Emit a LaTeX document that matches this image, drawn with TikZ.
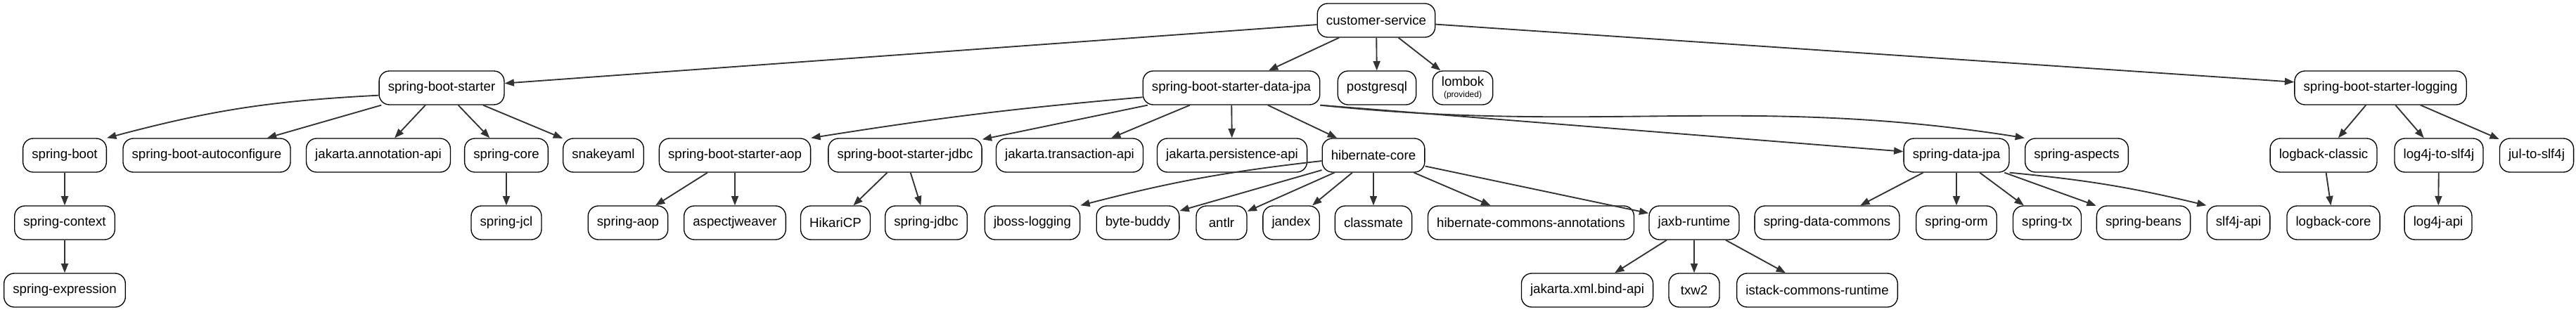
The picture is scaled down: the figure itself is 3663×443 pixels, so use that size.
\documentclass[tikz,border=0pt]{standalone}
\usepackage{fontspec}
\setmainfont{Liberation Sans}
\usetikzlibrary{arrows.meta}

\tikzset{
  artifact/.style={draw, line width=1pt, rounded corners=11pt, minimum width=54pt,
    minimum height=36pt, inner xsep=9.5pt, font=\fontsize{14}{16}\selectfont},
  dependson/.style={-{Triangle[length=10pt,width=7.5pt]}, line width=1.4pt, draw=black!80},
}

\begin{document}
\begin{tikzpicture}[x=0.75pt, y=0.75pt]
    \useasboundingbox (0,0) rectangle (3663,-443);

    % Root project
    \node[artifact] (cs) at (1957,-29) {customer-service};

    % Direct dependencies
    \node[artifact] (sbs) at (628,-125) {spring-boot-starter};
    \node[artifact] (sbsdj) at (1751,-125) {spring-boot-starter-data-jpa};
    \node[artifact] (pg) at (1958,-125) {postgresql};
    \node[artifact, align=center] (lom) at (2080,-125) {lombok\\[-4pt]{\fontsize{9}{10}\selectfont (provided)}};
    \node[artifact] (sbsl) at (3385,-125) {spring-boot-starter-logging};

    % Second level
    \node[artifact] (sb) at (92,-221) {spring-boot};
    \node[artifact] (sbac) at (294,-221) {spring-boot-autoconfigure};
    \node[artifact] (jaa) at (538,-221) {jakarta.annotation-api};
    \node[artifact] (score) at (720,-221) {spring-core};
    \node[artifact] (yaml) at (858,-221) {snakeyaml};
    \node[artifact] (sbsaop) at (1045,-221) {spring-boot-starter-aop};
    \node[artifact] (sbsjdbc) at (1287,-221) {spring-boot-starter-jdbc};
    \node[artifact] (jta) at (1521,-221) {jakarta.transaction-api};
    \node[artifact] (jpa) at (1752,-221) {jakarta.persistence-api};
    \node[artifact] (hib) at (1953,-221) {hibernate-core};
    \node[artifact] (sdjpa) at (2782,-221) {spring-data-jpa};
    \node[artifact] (sasp) at (2953,-221) {spring-aspects};
    \node[artifact] (lbc) at (3304,-221) {logback-classic};
    \node[artifact] (l4j) at (3468,-221) {log4j-to-slf4j};
    \node[artifact] (jul) at (3607,-221) {jul-to-slf4j};

    % Third level
    \node[artifact] (sctx) at (92,-317) {spring-context};
    \node[artifact] (jcl) at (720,-317) {spring-jcl};
    \node[artifact] (saop) at (893,-317) {spring-aop};
    \node[artifact] (aspj) at (1045,-317) {aspectjweaver};
    \node[artifact] (hik) at (1188,-317) {HikariCP};
    \node[artifact] (sjdbc) at (1317,-317) {spring-jdbc};
    \node[artifact] (jbl) at (1468,-317) {jboss-logging};
    \node[artifact] (bb) at (1618,-317) {byte-buddy};
    \node[artifact] (antlr) at (1737,-317) {antlr};
    \node[artifact] (jandex) at (1836,-317) {jandex};
    \node[artifact] (cmate) at (1953,-317) {classmate};
    \node[artifact] (hca) at (2177,-317) {hibernate-commons-annotations};
    \node[artifact] (jaxb) at (2409,-317) {jaxb-runtime};
    \node[artifact] (sdc) at (2598,-317) {spring-data-commons};
    \node[artifact] (sorm) at (2782,-317) {spring-orm};
    \node[artifact] (stx) at (2911,-317) {spring-tx};
    \node[artifact] (sbeans) at (3048,-317) {spring-beans};
    \node[artifact] (slf) at (3183,-317) {slf4j-api};
    \node[artifact] (lbcore) at (3318,-317) {logback-core};
    \node[artifact] (l4japi) at (3467,-317) {log4j-api};

    % Fourth level
    \node[artifact] (sexp) at (92,-413) {spring-expression};
    \node[artifact] (xmlb) at (2257,-413) {jakarta.xml.bind-api};
    \node[artifact] (txw) at (2409,-413) {txw2};
    \node[artifact] (istack) at (2584,-413) {istack-commons-runtime};

    % customer-service
    \draw[dependson] (cs) -- (sbs);
    \draw[dependson] (cs) -- (sbsdj);
    \draw[dependson] (cs) -- (pg);
    \draw[dependson] (cs) -- (lom);
    \draw[dependson] (cs) -- (sbsl);

    % spring-boot-starter
    \draw[dependson] ([yshift=-8pt]sbs.west) to[bend right=6] (sb.north east);
    \draw[dependson] (sbs) -- (sbac);
    \draw[dependson] (sbs) -- (jaa);
    \draw[dependson] (sbs) -- (score);
    \draw[dependson] (sbs) -- (yaml);
    \draw[dependson] (sb) -- (sctx);
    \draw[dependson] (sctx) -- (sexp);
    \draw[dependson] (score) -- (jcl);

    % spring-boot-starter-data-jpa
    \draw[dependson] ([yshift=-10pt]sbsdj.west) to[bend right=2] (sbsaop.north east);
    \draw[dependson] (sbsdj) -- (sbsjdbc);
    \draw[dependson] (sbsdj) -- (jta);
    \draw[dependson] (sbsdj) -- (jpa);
    \draw[dependson] (sbsdj) -- (hib);
    \draw[dependson] (sbsdj.south east) -- ([yshift=4pt]sdjpa.west);
    \draw[dependson] (sbsdj.south east) to[out=-6, in=171] (sasp.north west);
    \draw[dependson] (sbsaop) -- (saop);
    \draw[dependson] (sbsaop) -- (aspj);
    \draw[dependson] (sbsjdbc) -- (hik);
    \draw[dependson] (sbsjdbc) -- (sjdbc);

    % hibernate-core
    \draw[dependson] ([yshift=-6pt]hib.west) to[bend right=4] (jbl.north east);
    \draw[dependson] (hib) -- (bb);
    \draw[dependson] (hib) -- (antlr);
    \draw[dependson] (hib) -- (jandex);
    \draw[dependson] (hib) -- (cmate);
    \draw[dependson] (hib) -- (hca);
    \draw[dependson] (hib) -- (jaxb);
    \draw[dependson] (jaxb) -- (xmlb);
    \draw[dependson] (jaxb) -- (txw);
    \draw[dependson] (jaxb) -- (istack);

    % spring-data-jpa
    \draw[dependson] (sdjpa) -- (sdc);
    \draw[dependson] (sdjpa) -- (sorm);
    \draw[dependson] (sdjpa) -- (stx);
    \draw[dependson] (sdjpa) -- (sbeans);
    \draw[dependson] (sdjpa.south east) to[bend left=4] (slf.north west);

    % spring-boot-starter-logging
    \draw[dependson] (sbsl) -- (lbc);
    \draw[dependson] (sbsl) -- (l4j);
    \draw[dependson] (sbsl) -- (jul);
    \draw[dependson] (lbc) -- (lbcore);
    \draw[dependson] (l4j) -- (l4japi);
\end{tikzpicture}
\end{document}
